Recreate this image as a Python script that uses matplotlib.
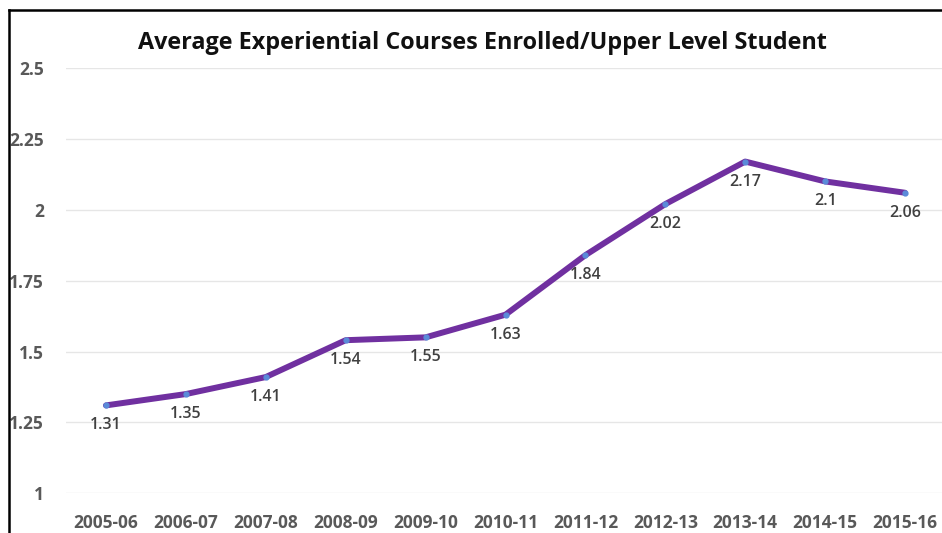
import matplotlib
matplotlib.use("Agg")
import matplotlib.pyplot as plt
from matplotlib.lines import Line2D

years = ["2005-06", "2006-07", "2007-08", "2008-09", "2009-10", "2010-11",
         "2011-12", "2012-13", "2013-14", "2014-15", "2015-16"]
values = [1.31, 1.35, 1.41, 1.54, 1.55, 1.63, 1.84, 2.02, 2.17, 2.1, 2.06]
yticks = [1, 1.25, 1.5, 1.75, 2, 2.25, 2.5]
ytick_labels = ["1", "1.25", "1.5", "1.75", "2", "2.25", "2.5"]
title = "Average Experiential Courses Enrolled/Upper Level Student"

plt.rcParams['font.family'] = ['Open Sans', 'DejaVu Sans']

fig = plt.figure(figsize=(9.42, 5.33), dpi=100)
ax = fig.add_axes([66/942, 0.0745, 879/942, 0.8724 - 0.0745])

x = list(range(len(years)))
ax.plot(x, values, color="#7030A0", linewidth=4.3, solid_capstyle="round",
        marker="o", markersize=3.5, markerfacecolor="#5B8BD9",
        markeredgecolor="#5B8BD9", zorder=3)
for xi, v in zip(x, values):
    ax.annotate(f"{v:g}", (xi, v), xytext=(0, -20), textcoords="offset pixels",
                ha="center", va="center", fontsize=11.5, fontweight="semibold",
                color="#404040")

ax.set_xlim(-0.5, len(years) - 0.5)
ax.set_ylim(1, 2.5)
ax.set_xticks(x)
ax.set_xticklabels(years, fontsize=12.5, fontweight="bold", color="#595959")
ax.set_yticks(yticks)
ax.set_yticklabels(ytick_labels, fontsize=12.5, fontweight="bold", color="#595959")
ax.tick_params(length=0)
ax.tick_params(axis="x", pad=15)
ax.tick_params(axis="y", pad=16)
ax.grid(axis="y", color="#E6E6E6", linewidth=1.0)
for s in ax.spines.values():
    s.set_visible(False)
ax.set_axisbelow(True)

fig.text(482/942, 1 - 43/533, title, ha="center", va="center",
         fontsize=16.8, fontweight="bold", color="#111111")

fig.add_artist(Line2D([8.5/942, 8.5/942], [0, 1 - 10/533], color="black", linewidth=1.8))
fig.add_artist(Line2D([8.5/942, 1], [1 - 10/533, 1 - 10/533], color="black", linewidth=1.8))

fig.savefig("out.png", dpi=100)
